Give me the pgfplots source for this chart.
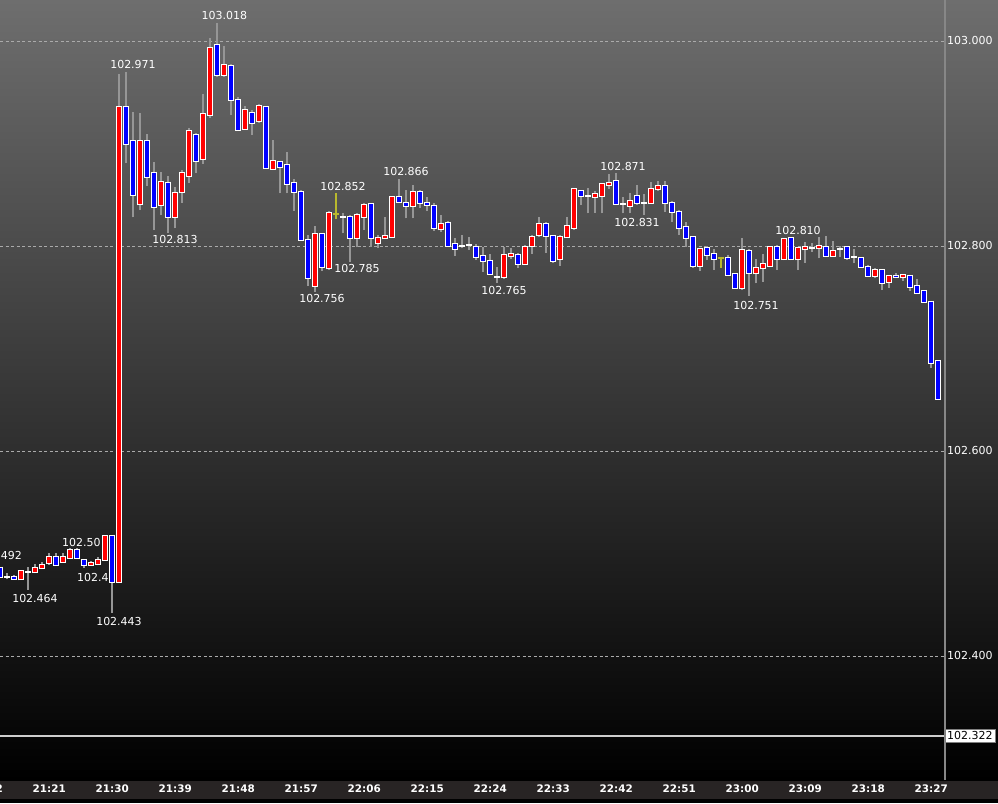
\documentclass[border=0pt]{standalone}
\usepackage{pgfplots}
\pgfplotsset{compat=1.18}
\usepackage{pgfplotstable}
\usepackage{fontspec}
\setmainfont{DejaVu Sans}

\definecolor{wickc}{RGB}{150,150,150}
\definecolor{upc}{RGB}{255,0,0}
\definecolor{dnc}{RGB}{0,0,255}
\definecolor{dojiy}{RGB}{185,185,45}
\definecolor{gridc}{RGB}{170,170,170}
\definecolor{stripc}{RGB}{40,36,36}
\definecolor{bgtop}{RGB}{110,110,110}
\definecolor{axisc}{RGB}{135,135,135}
\definecolor{lastc}{RGB}{205,205,205}

% minute index i: 0 = 21:21
\pgfplotstableread{
i o h l c
-4 102.4748 102.4842 102.4740 102.4832
-2 102.4817 102.4898 102.4807 102.4855
-1 102.4855 102.4920 102.4846 102.4888
0 102.4904 102.5008 102.4888 102.4969
2 102.4920 102.5008 102.4910 102.4969
3 102.4953 102.5051 102.4943 102.5034
6 102.4888 102.4925 102.4880 102.4910
7 102.4895 102.4969 102.4885 102.4937
8 102.4937 102.5180 102.4930 102.5174
10 102.4725 102.9678 102.4725 102.9353
13 102.8407 102.9300 102.8350 102.9021
16 102.8400 102.8725 102.8300 102.8627
18 102.8286 102.8580 102.8173 102.8520
19 102.8524 102.8740 102.8420 102.8709
20 102.8686 102.9150 102.8610 102.9125
22 102.8846 102.9480 102.8800 102.9285
23 102.9278 103.0026 102.9250 102.9935
25 102.9671 102.9951 102.9650 102.9766
28 102.9144 102.9370 102.9130 102.9327
30 102.9217 102.9390 102.9200 102.9366
32 102.8754 102.9034 102.8740 102.8826
38 102.7610 102.8195 102.7554 102.8114
40 102.7782 102.8341 102.7770 102.8319
44 102.8075 102.8319 102.7987 102.8302
45 102.8286 102.8416 102.8156 102.8400
47 102.8026 102.8107 102.7977 102.8075
48 102.8075 102.8280 102.8065 102.8100
49 102.8091 102.8490 102.8075 102.8481
52 102.8390 102.8595 102.8270 102.8524
56 102.8163 102.8300 102.8140 102.8215
65 102.7695 102.7987 102.7680 102.7912
66 102.7902 102.7977 102.7870 102.7925
68 102.7824 102.8010 102.7810 102.7993
69 102.8003 102.8110 102.7922 102.8085
70 102.8107 102.8286 102.8085 102.8215
73 102.7873 102.8107 102.7805 102.8085
74 102.8085 102.8286 102.8080 102.8195
75 102.8179 102.8563 102.8156 102.8553
78 102.8475 102.8539 102.8325 102.8507
79 102.8491 102.8618 102.8319 102.8605
80 102.8595 102.8702 102.8553 102.8618
83 102.8393 102.8514 102.8319 102.8442
86 102.8416 102.8627 102.8410 102.8553
87 102.8553 102.8637 102.8539 102.8585
93 102.7805 102.7968 102.7759 102.7968
99 102.7587 102.8075 102.7570 102.7961
101 102.7734 102.7870 102.7636 102.7788
102 102.7782 102.7919 102.7652 102.7821
103 102.7805 102.8000 102.7792 102.7987
105 102.7873 102.8080 102.7860 102.8065
107 102.7870 102.7990 102.7766 102.7977
108 102.7968 102.8042 102.7837 102.7993
110 102.7977 102.8085 102.7880 102.8000
112 102.7902 102.8051 102.7896 102.7954
118 102.7710 102.7788 102.7685 102.7766
120 102.7652 102.7717 102.7593 102.7707
122 102.7695 102.7717 102.7661 102.7714
}\tup

\pgfplotstableread{
i o h l c
-7 102.4862 102.4870 102.4770 102.4774
-5 102.4774 102.4790 102.4745 102.4754
1 102.4969 102.5008 102.4878 102.4888
4 102.5034 102.5050 102.4945 102.4953
5 102.4937 102.4945 102.4855 102.4888
9 102.5174 102.5180 102.4423 102.4725
11 102.9353 102.9700 102.8807 102.8995
12 102.9021 102.9310 102.8280 102.8495
14 102.9021 102.9090 102.8590 102.8676
15 102.8715 102.8820 102.8156 102.8378
17 102.8618 102.8680 102.8130 102.8286
21 102.9083 102.9105 102.8715 102.8832
24 102.9958 103.0179 102.9646 102.9671
26 102.9756 102.9780 102.9278 102.9424
27 102.9424 102.9457 102.9125 102.9132
29 102.9295 102.9330 102.9083 102.9197
31 102.9353 102.9360 102.8760 102.8764
33 102.8822 102.8830 102.8514 102.8768
34 102.8790 102.8920 102.8514 102.8605
35 102.8618 102.8650 102.8345 102.8524
36 102.8524 102.8550 102.8050 102.8059
37 102.8059 102.8107 102.7610 102.7685
39 102.8114 102.8120 102.7759 102.7792
43 102.8286 102.8302 102.7847 102.8075
46 102.8407 102.8416 102.7993 102.8075
50 102.8481 102.8651 102.8416 102.8426
51 102.8416 102.8546 102.8270 102.8390
53 102.8524 102.8546 102.8370 102.8423
54 102.8423 102.8480 102.8345 102.8400
55 102.8393 102.8416 102.8150 102.8173
57 102.8228 102.8240 102.7993 102.8000
58 102.8016 102.8075 102.7902 102.7971
61 102.7993 102.8020 102.7863 102.7890
62 102.7902 102.7987 102.7750 102.7857
63 102.7857 102.7922 102.7717 102.7724
67 102.7912 102.7935 102.7788 102.7824
71 102.8215 102.8230 102.7935 102.8098
72 102.8098 102.8105 102.7837 102.7857
76 102.8537 102.8545 102.8400 102.8491
81 102.8634 102.8709 102.8400 102.8407
84 102.8488 102.8595 102.8400 102.8416
88 102.8585 102.8637 102.8335 102.8416
89 102.8416 102.8435 102.8237 102.8335
90 102.8335 102.8350 102.8107 102.8173
91 102.8189 102.8230 102.7993 102.8075
92 102.8085 102.8090 102.7790 102.7805
94 102.7977 102.8000 102.7863 102.7912
95 102.7922 102.7968 102.7766 102.7873
97 102.7880 102.7912 102.7710 102.7717
98 102.7727 102.7735 102.7590 102.7593
100 102.7951 102.7968 102.7512 102.7734
104 102.7987 102.8010 102.7766 102.7873
106 102.8075 102.8091 102.7860 102.7873
111 102.7987 102.8098 102.7890 102.7902
114 102.7987 102.7995 102.7863 102.7880
116 102.7880 102.7890 102.7783 102.7792
117 102.7798 102.7815 102.7695 102.7710
119 102.7766 102.7770 102.7570 102.7642
121 102.7710 102.7734 102.7685 102.7695
123 102.7710 102.7717 102.7564 102.7603
124 102.7610 102.7675 102.7540 102.7544
125 102.7561 102.7570 102.7450 102.7457
126 102.7457 102.7460 102.6813 102.6862
127 102.6878 102.6880 102.6500 102.6504
}\tdn

\pgfplotstableread{
i o h l c
-6 102.4774 102.4807 102.4748 102.4774
-3 102.4822 102.4871 102.4644 102.4822
42 102.8286 102.8319 102.8124 102.8286
59 102.8000 102.8107 102.7977 102.8000
60 102.8007 102.8085 102.7961 102.8007
64 102.7700 102.7798 102.7642 102.7700
77 102.8491 102.8563 102.8319 102.8491
82 102.8407 102.8481 102.8319 102.8407
85 102.8416 102.8507 102.8300 102.8416
109 102.7983 102.8026 102.7944 102.7983
113 102.7968 102.8000 102.7896 102.7968
115 102.7890 102.7968 102.7831 102.7890
}\tdj

\pgfplotstableread{
i o h l c
41 102.8309 102.8514 102.8260 102.8309
96 102.7886 102.7886 102.7788 102.7886
}\tdy

\begin{document}
\begin{tikzpicture}[font=\fontsize{11}{13}\selectfont]
\useasboundingbox (0,0) rectangle (998pt,803pt);
\fill[black] (0,0) rectangle (998pt,803pt);
\fill[stripc] (0,4pt) rectangle (998pt,23pt);
\shade[top color=bgtop, bottom color=black] (0,23pt) rectangle (998pt,803pt);

\begin{axis}[
  at={(0pt,23pt)}, anchor=south west,
  scale only axis, width=945pt, height=780pt,
  xmin=-7.04, xmax=127.96, ymin=102.279, ymax=103.04,
  clip mode=individual,
  axis line style={draw=none},
  major tick length=0pt,
  xtick={0,9,...,126},
  xticklabels={21:21,21:30,21:39,21:48,21:57,22:06,22:15,22:24,22:33,22:42,22:51,23:00,23:09,23:18,23:27},
  xticklabel style={anchor=center, yshift=-9pt, text=white,
    font=\fontsize{10.4}{12}\selectfont\bfseries},
  ytick={102.4,102.6,102.8,103},
  yticklabel pos=right,
  yticklabel style={anchor=west, xshift=-1.5pt, text=white,
    font=\fontsize{11}{13}\selectfont,
    /pgf/number format/.cd, fixed, fixed zerofill, precision=3, assume math mode=true},
  ymajorgrids,
  major grid style={gridc, line width=0.8pt, dash pattern=on 3pt off 2.5pt},
]

% high / low annotations (under the candles)
\begin{scope}[every node/.style={text=white, inner sep=0pt}]
\node[anchor=east] at (axis cs:-3.9,102.4985) {102.492};
\node at (axis cs:-2.04,102.4556) {102.464};
\node[anchor=west] at (axis cs:1.81,102.5112) {102.50};
\node[anchor=west] at (axis cs:3.96,102.4761) {102.4};
\node at (axis cs:9.96,102.4341) {102.443};
\node at (axis cs:11.96,102.9766) {102.971};
\node at (axis cs:25.03,103.0244) {103.018};
\node at (axis cs:17.96,102.8059) {102.813};
\node at (axis cs:41.96,102.8585) {102.852};
\node at (axis cs:43.96,102.7776) {102.785};
\node at (axis cs:38.96,102.7483) {102.756};
\node at (axis cs:50.96,102.8722) {102.866};
\node at (axis cs:64.96,102.7561) {102.765};
\node at (axis cs:81.96,102.8771) {102.871};
\node at (axis cs:83.96,102.8234) {102.831};
\node at (axis cs:100.96,102.7424) {102.751};
\node at (axis cs:106.96,102.8156) {102.810};
\end{scope}

% last price line
\addplot[draw=lastc, line width=1.5pt] coordinates {(-8,102.322) (129,102.322)};

% wicks
\addplot[quiver={u=0,v=\thisrow{h}-\thisrow{l}}, draw=wickc, line width=1.6pt] table[x=i,y=l] {\tup};
\addplot[quiver={u=0,v=\thisrow{h}-\thisrow{l}}, draw=wickc, line width=1.6pt] table[x=i,y=l] {\tdn};
\addplot[quiver={u=0,v=\thisrow{h}-\thisrow{l}}, draw=wickc, line width=1.6pt] table[x=i,y=l] {\tdj};
\addplot[quiver={u=0,v=\thisrow{h}-\thisrow{l}}, draw=dojiy, line width=1.6pt] table[x=i,y=l] {\tdy};

% bodies: white frame, then colour
\addplot[quiver={u=0,v=\thisrow{c}-\thisrow{o}}, draw=white, line width=5.8pt, shorten <=-1pt, shorten >=-1pt] table[x=i,y=o] {\tup};
\addplot[quiver={u=0,v=\thisrow{c}-\thisrow{o}}, draw=white, line width=5.8pt, shorten <=-1pt, shorten >=-1pt] table[x=i,y=o] {\tdn};
\addplot[quiver={u=0,v=\thisrow{c}-\thisrow{o}}, draw=upc, line width=3.8pt] table[x=i,y=o] {\tup};
\addplot[quiver={u=0,v=\thisrow{c}-\thisrow{o}}, draw=dnc, line width=3.8pt] table[x=i,y=o] {\tdn};

% dojis
\addplot[only marks, mark=-, mark size=2.9pt, mark options={draw=white, line width=1.8pt}] table[x=i,y=c] {\tdj};
\addplot[only marks, mark=-, mark size=2.9pt, mark options={draw=dojiy, line width=1.8pt}] table[x=i,y=c] {\tdy};

% right axis line and last price box
\draw[axisc, line width=1.8pt] (rel axis cs:1,0) -- (rel axis cs:1,1);
\node[fill=white, draw=gray, text=black, anchor=west, inner xsep=2pt, inner ysep=2.2pt]
  at ({rel axis cs:1,0}|-{axis cs:0,102.322}) {102.322};
\node[text=white, font=\fontsize{10.4}{12}\selectfont\bfseries]
  at ({axis cs:-9,102.5}|-{rel axis cs:0,0}) [yshift=-9pt] {21:12};
\end{axis}
\end{tikzpicture}
\end{document}
